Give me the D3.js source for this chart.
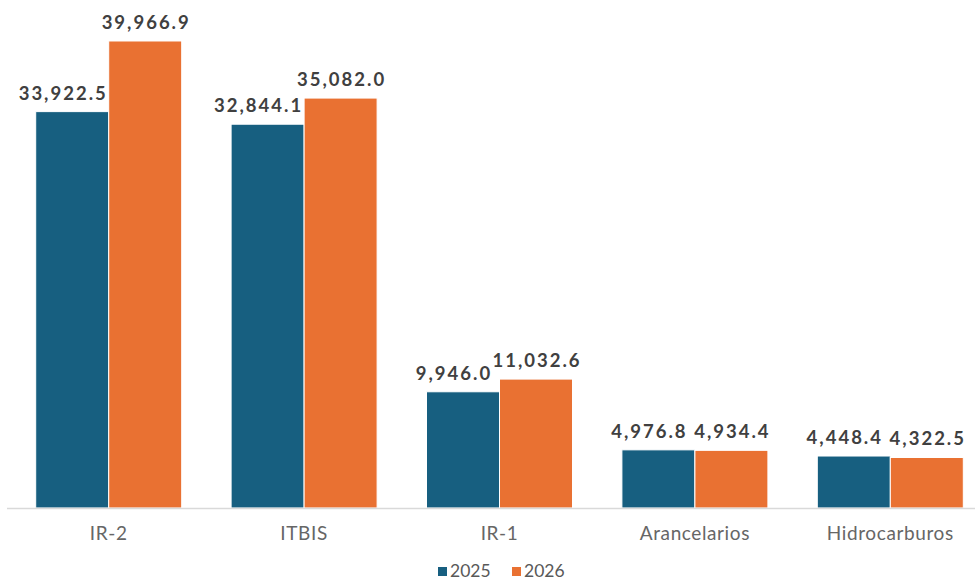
<!DOCTYPE html>
<html>
<head>
<meta charset="utf-8">
<script src="https://cdn.jsdelivr.net/npm/d3@7"></script>
<style>
    html, body { margin: 0; padding: 0; background: #fff; }
    svg { display: block; }
    .value-label { font-family: Lato, "Open Sans", sans-serif; font-weight: 700; font-size: 18.5px; fill: #404040; letter-spacing: 2px; }
    .cat-label { font-family: Lato, "Open Sans", sans-serif; font-size: 19px; fill: #666; letter-spacing: 0.6px; }
    .legend-label { font-family: Lato, "Open Sans", sans-serif; font-size: 17.5px; fill: #595959; }
</style>
</head>
<body>
<div id="chart"></div>
<script>
const categories = ["IR-2", "ITBIS", "IR-1", "Arancelarios", "Hidrocarburos"];
const seriesNames = ["2025", "2026"];
const values2025 = [33922.5, 32844.1, 9946.0, 4976.8, 4448.4];
const values2026 = [39966.9, 35082.0, 11032.6, 4934.4, 4322.5];
const seriesColors = ["#175f80", "#e97132"];

window.addEventListener('load', () => {
    const width = 975;
    const height = 581;
    const baseline = 508;

    const svg = d3.select("#chart")
        .append("svg")
        .attr("width", width)
        .attr("height", height);

    const x0 = d3.scaleBand()
        .domain(categories)
        .range([11, 988])
        .padding(0);

    const groupWidth = 146;
    const x1 = d3.scaleBand()
        .domain(seriesNames)
        .range([0, groupWidth])
        .padding(0);

    const y = d3.scaleLinear()
        .domain([0, 40000])
        .range([baseline, 40.6]);

    const rows = categories.map((c, i) => ({
        category: c,
        values: [values2025[i], values2026[i]]
    }));

    const groups = svg.selectAll(".group")
        .data(rows)
        .join("g")
        .attr("class", "group")
        .attr("transform", d => `translate(${x0(d.category) + (x0.bandwidth() - groupWidth) / 2},0)`);

    groups.selectAll("rect")
        .data(d => d.values.map((v, k) => ({series: seriesNames[k], value: v, k})))
        .join("rect")
        .attr("x", d => x1(d.series))
        .attr("y", d => y(d.value))
        .attr("width", x1.bandwidth())
        .attr("height", d => baseline - y(d.value))
        .attr("fill", d => seriesColors[d.k])
        .attr("stroke", "#fff")
        .attr("stroke-width", 1);

    // value labels (2025 labels sit a bit to the left, as in the source)
    const fmt = d3.format(",.1f");
    groups.selectAll(".value-label")
        .data(d => d.values.map((v, k) => ({series: seriesNames[k], value: v, k})))
        .join("text")
        .attr("class", "value-label")
        .attr("text-anchor", "middle")
        .attr("x", d => x1(d.series) + x1.bandwidth() / 2 + (d.k === 0 ? -9 : 1))
        .attr("y", d => y(d.value) - 12)
        .text(d => fmt(d.value));

    // axis line
    svg.append("line")
        .attr("x1", 7)
        .attr("x2", width)
        .attr("y1", baseline + 0.5)
        .attr("y2", baseline + 0.5)
        .attr("stroke", "#d9d9d9")
        .attr("stroke-width", 1.5);

    svg.selectAll(".cat-label")
        .data(categories)
        .join("text")
        .attr("class", "cat-label")
        .attr("text-anchor", "middle")
        .attr("x", d => x0(d) + x0.bandwidth() / 2)
        .attr("y", 540)
        .text(d => d);

    // legend
    const legend = svg.append("g").attr("transform", "translate(438,563)");
    const legendItems = legend.selectAll("g")
        .data(seriesNames)
        .join("g")
        .attr("transform", (d, i) => `translate(${i * 74},0)`);
    legendItems.append("rect")
        .attr("width", 9)
        .attr("height", 9)
        .attr("y", 4)
        .attr("fill", (d, i) => seriesColors[i]);
    legendItems.append("text")
        .attr("class", "legend-label")
        .attr("x", 12)
        .attr("y", 14)
        .text(d => d);
});
</script>
</body>
</html>
